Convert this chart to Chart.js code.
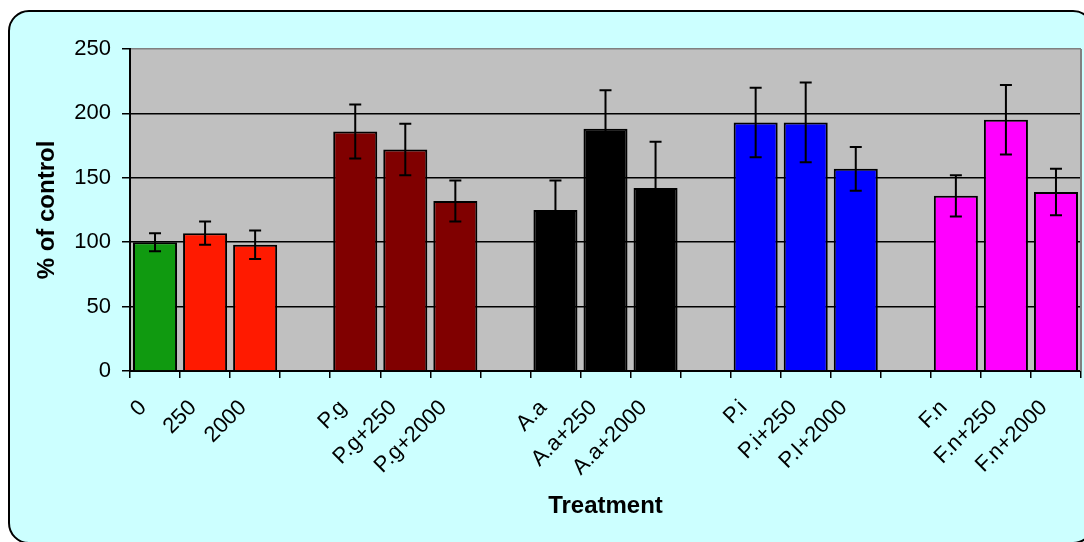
<!DOCTYPE html>
<html><head><meta charset="utf-8">
<script src="https://cdn.jsdelivr.net/npm/chart.js@4.4.1/dist/chart.umd.min.js"></script>
<style>html,body{margin:0;padding:0;background:#fff}#wrap{width:1084px;height:542px;position:relative}</style>
</head><body><div id="wrap"><canvas id="c" width="1084" height="542"></canvas></div>
<script>
const categories = ['0','250','2000','','P.g','P.g+250','P.g+2000','','A.a','A.a+250','A.a+2000','','P.i','P.i+250','P.I+2000','','F.n','F.n+250','F.n+2000'];
const values = [100,107,98,null,186,172,132,null,125,188,142,null,193,193,157,null,136,195,139];
const errors = [7,9,11,null,21,20,16,null,23,30,36,null,27,31,17,null,16,27,18];
const barColors = ['#109A10','#FF1A00','#FF1A00',null,'#800000','#800000','#800000',null,'#000000','#000000','#000000',null,'#0000FF','#0000FF','#0000FF',null,'#FF00FF','#FF00FF','#FF00FF'];
const yTicks = [0,50,100,150,200,250];
const xTitle = 'Treatment';
const yTitle = '% of control';

const FONT = "'Liberation Sans', Arial, sans-serif";

const bgPlugin = {
  id: 'bg',
  beforeDraw(chart) {
    const ctx = chart.ctx;
    ctx.save();
    ctx.fillStyle = '#fff';
    ctx.fillRect(0, 0, chart.width, chart.height);
    ctx.beginPath();
    ctx.roundRect(9, 11, 1084, 532, 20);
    ctx.fillStyle = '#CCFFFF';
    ctx.fill();
    ctx.lineWidth = 2;
    ctx.strokeStyle = '#000';
    ctx.stroke();
    const a = chart.chartArea;
    ctx.fillStyle = '#C0C0C0';
    ctx.fillRect(a.left, a.top, a.right - a.left, a.bottom - a.top);
    ctx.restore();
  },
  beforeDatasetsDraw(chart) {
    const ctx = chart.ctx, a = chart.chartArea;
    ctx.save();
    ctx.strokeStyle = '#808080';
    ctx.lineWidth = 2;
    ctx.beginPath();
    ctx.moveTo(a.right, a.top);
    ctx.lineTo(a.right, a.bottom);
    ctx.stroke();
    ctx.restore();
  }
};

const errorBarPlugin = {
  id: 'errbars',
  afterDatasetsDraw(chart) {
    const ctx = chart.ctx, x = chart.scales.x, y = chart.scales.y;
    ctx.save();
    ctx.strokeStyle = '#000';
    ctx.lineWidth = 2;
    values.forEach((v, i) => {
      if (v == null) return;
      const e = errors[i];
      const px = x.getPixelForValue(i);
      const top = y.getPixelForValue(v + e), bot = y.getPixelForValue(v - e);
      ctx.beginPath();
      ctx.moveTo(px, top); ctx.lineTo(px, bot);
      ctx.moveTo(px - 6, top); ctx.lineTo(px + 6, top);
      ctx.moveTo(px - 6, bot); ctx.lineTo(px + 6, bot);
      ctx.stroke();
    });
    ctx.restore();
  }
};

new Chart(document.getElementById('c'), {
  type: 'bar',
  data: {
    labels: categories,
    datasets: [{
      data: values,
      backgroundColor: barColors,
      borderColor: '#000',
      borderWidth: 2,
      barPercentage: 0.88,
      categoryPercentage: 1.0
    }]
  },
  options: {
    responsive: false,
    animation: false,
    devicePixelRatio: 1,
    layout: { padding: { left: 29, top: 49, right: 3, bottom: 17 } },
    plugins: { legend: { display: false }, tooltip: { enabled: false } },
    scales: {
      x: {
        grid: { drawOnChartArea: false, drawTicks: true, tickLength: 7, color: '#000', lineWidth: 1.5, offset: true },
        border: { color: '#000', width: 2 },
        ticks: { autoSkip: false, minRotation: 45, maxRotation: 45, color: '#000', font: { family: FONT, size: 22 }, padding: 17, labelOffset: -12 },
        title: { display: true, text: xTitle, color: '#000', font: { family: FONT, size: 24, weight: 'bold' } },
        afterFit(s) { s.height = 154; s.paddingRight = 0; s.paddingLeft = 0; }
      },
      y: {
        min: 0, max: 250,
        afterBuildTicks(s) { s.ticks = yTicks.map(v => ({ value: v })); },
        grid: {
          color: c => (c.tick && c.tick.value === 250) ? '#808080' : '#000',
          tickColor: '#000', lineWidth: 1.5, tickLength: 8
        },
        border: { color: '#000', width: 2 },
        ticks: { color: '#000', font: { family: FONT, size: 22 }, padding: 11 },
        title: { display: true, text: yTitle, color: '#000', font: { family: FONT, size: 24, weight: 'bold' } },
        afterFit(s) { s.width = 101; }
      }
    }
  },
  plugins: [bgPlugin, errorBarPlugin]
});
</script></body></html>
